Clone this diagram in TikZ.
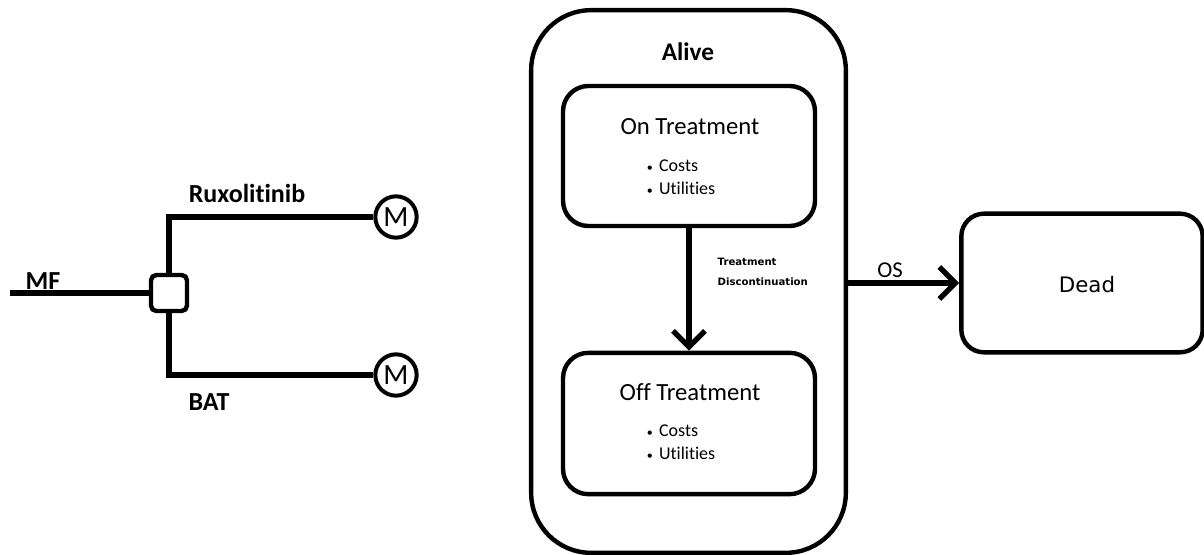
\documentclass[tikz,border=0pt]{standalone}
\usepackage{fontspec}
\setmainfont{Carlito}[Ligatures=NoCommon]
\newfontfamily\dejavu{DejaVu Sans}
\usepackage{tikz}
\usetikzlibrary{arrows.meta,positioning,shadows}

\newcommand{\itembullet}{{\fontsize{9}{9}\selectfont\textbullet}\hspace{0.35em}}

\tikzset{
  statebox/.style={draw,line width=3.3pt,fill=white,inner sep=0pt,
    drop shadow={shadow xshift=-1.5pt,shadow yshift=-1.5pt,opacity=0.3}},
  decision/.style={draw,line width=3.3pt,fill=white,rounded corners=4pt,
    minimum size=27pt,inner sep=0pt},
  markov/.style={draw,circle,line width=3pt,fill=white,minimum size=31pt,
    inner sep=0pt,font=\fontsize{22}{22}\selectfont},
  branch/.style={line width=3.8pt},
  flow/.style={line width=4pt,-{Straight Barb[length=12pt,width=24pt,line width=4pt]}},
  lbl/.style={font=\bfseries\fontsize{19.5}{19.5}\selectfont},
  title/.style={font=\fontsize{18.5}{18.5}\selectfont},
  items/.style={align=left,font=\fontsize{13.5}{17.5}\selectfont},
}

\begin{document}
\begin{tikzpicture}[x=0.75pt,y=-0.75pt]
  \useasboundingbox (0,0) rectangle (1204,555);

  % decision tree
  \node[decision] (dec) at (169,293) {};
  \node[markov] (ruxo) at (396,217) {M};
  \node[markov] (bat) at (396,375) {M};
  \coordinate (start) at (10,293);
  \draw[branch] (start) -- (dec);
  \draw[branch] (dec.north) |- (ruxo);
  \draw[branch] (dec.south) |- (bat);
  \node[lbl] (mf) at (43,281) {MF};
  \node[lbl] (ruxolbl) at (247,193) {Ruxolitinib};
  \node[lbl] (batlbl) at (209,402) {BAT};

  % Markov states
  \node[statebox,rounded corners=45pt,minimum width=236pt,minimum height=407pt]
    (alive) at (688.5,281.5) {};
  \node[font=\bfseries\fontsize{19}{19}\selectfont] (alivelbl) at (688,52) {Alive};

  \node[statebox,rounded corners=19pt,minimum width=189pt,minimum height=105pt]
    (on) at (689,156) {};
  \node[title] (ontitle) at (690,127) {On Treatment};
  \node[items] (onlist) at (681,177) {\itembullet Costs\\\itembullet Utilities};

  \node[statebox,rounded corners=19pt,minimum width=189pt,minimum height=106pt]
    (off) at (689,423.5) {};
  \node[title] (offtitle) at (690,392) {Off Treatment};
  \node[items] (offlist) at (681,442) {\itembullet Costs\\\itembullet Utilities};

  \node[statebox,rounded corners=17pt,minimum width=181pt,minimum height=104pt]
    (dead) at (1082,283) {};
  \node[font=\dejavu\fontsize{16}{16}\selectfont] (deadlbl) at (1087,285) {Dead};

  % transitions
  \draw[flow] (on) -- (off);
  \node[anchor=west,align=left,font=\dejavu\bfseries\fontsize{7.6}{14.5}\selectfont]
    (disc) at (713,272) {Treatment\\Discontinuation};
  \draw[flow] (alive.east |- dead) -- (dead);
  \node[font=\fontsize{17}{17}\selectfont] (os) at (890,270) {OS};
\end{tikzpicture}
\end{document}
